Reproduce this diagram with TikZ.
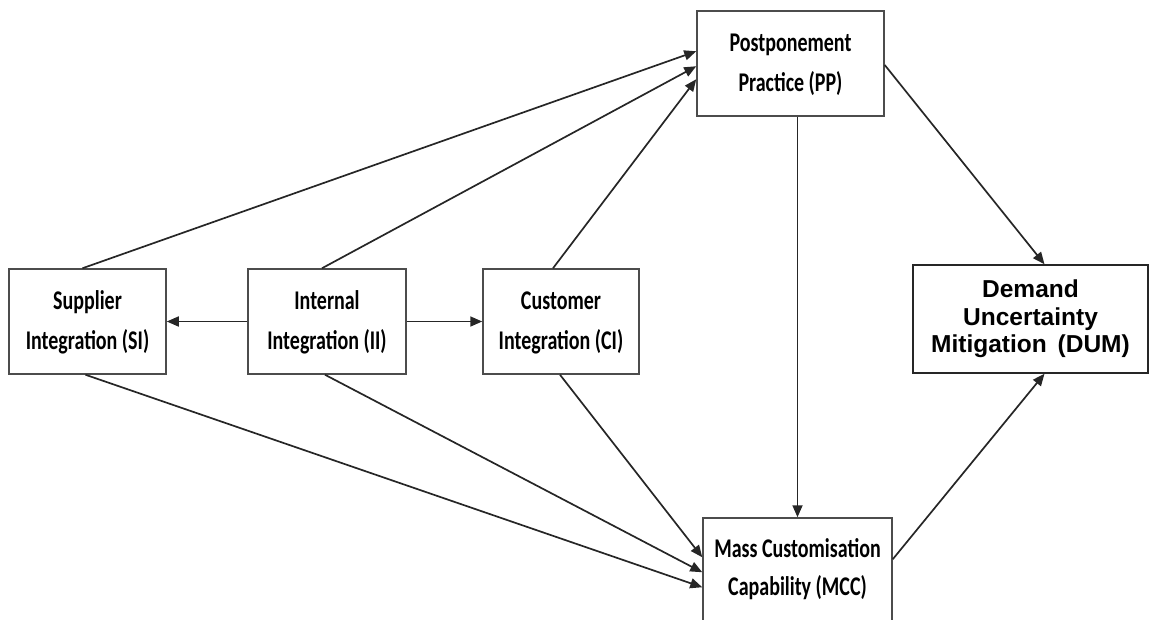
\documentclass[tikz,border=0pt]{standalone}
\usepackage{graphicx}
\usepackage{fontspec}
\setmainfont{Carlito}
\newfontfamily\dumfont{Liberation Sans}
\usetikzlibrary{arrows.meta}

% two centred lines, drawn a little taller than wide
\newcommand{\tallstack}[1]{\scalebox{1}[1.35]{\begin{tabular}{@{}c@{}}#1\end{tabular}}}

\tikzset{
  box/.style={draw=black!70, line width=1.5pt, fill=white, align=center,
    inner sep=0pt, font=\fontsize{20}{29.6}\selectfont\bfseries},
  boxtext/.style={align=center, inner sep=0pt, font=\fontsize{20}{28.2}\selectfont\bfseries},
  dumbox/.style={draw=black!85, line width=1.5pt, fill=white, align=center,
    inner sep=0pt, font=\dumfont\fontsize{24.5}{27.5}\selectfont\bfseries},
  link/.style={draw=black!85, line width=1.7pt, -{Triangle[length=12pt,width=10pt]}},
}

\begin{document}
\begin{tikzpicture}[x=1pt,y=-1pt]
  \useasboundingbox (0,0) rectangle (1152,619);
  \clip (0,0) rectangle (1152,619);

  % boxes
  \node[box, minimum width=187pt, minimum height=105pt] (pp) at (790.5,63.5)
    {\tallstack{Postponement\\Practice (PP)}};
  \node[box, minimum width=157pt, minimum height=105pt] (si) at (87.5,321.5)
    {\tallstack{Supplier\\Integration (SI)}};
  \node[box, minimum width=158pt, minimum height=105pt] (ii) at (327,321.5)
    {\tallstack{Internal\\Integration (II)}};
  \node[box, minimum width=156pt, minimum height=105pt] (ci) at (561,321.5)
    {\tallstack{Customer\\Integration (CI)}};
  \node[dumbox, minimum width=235pt, minimum height=108pt] (dum) at (1030.5,319)
    {Demand\\Uncertainty\\Mitigation\hspace{4pt} (DUM)};
  % the capability box runs past the lower edge
  \node[box, minimum width=189pt, minimum height=130pt] (mcc) at (797.5,583) {};
  \node[boxtext] (mcctext) at (797.5,569)
    {\tallstack{Mass Customisation\\Capability (MCC)}};

  % integration links
  \draw[link] (ii.west) -- (si.east);
  \draw[link] (ii.east) -- (ci.west);

  % paths to postponement
  \draw[link] ([xshift=-5pt]si.north) -- ([yshift=-41pt]pp.north west);
  \draw[link] ([xshift=-5pt]ii.north) -- ([yshift=-56pt]pp.north west);
  \draw[link] ([xshift=-8pt]ci.north) -- ([yshift=-69pt]pp.north west);

  % paths to mass customisation
  \draw[link] ([xshift=-2pt]si.south) -- ([yshift=-70pt]mcc.north west);
  \draw[link] ([xshift=-2pt]ii.south) -- ([yshift=-55pt]mcc.north west);
  \draw[link] ([xshift=-1pt]ci.south) -- ([yshift=-40pt]mcc.north west);
  \draw[link] (pp.south -| mcc.north) -- (mcc.north);

  % paths to demand uncertainty mitigation
  \draw[link] ([yshift=-1.5pt]pp.east) -- ([xshift=14pt]dum.north);
  \draw[link] ([yshift=-42pt]mcc.north east) -- ([xshift=14pt]dum.south);
\end{tikzpicture}
\end{document}
